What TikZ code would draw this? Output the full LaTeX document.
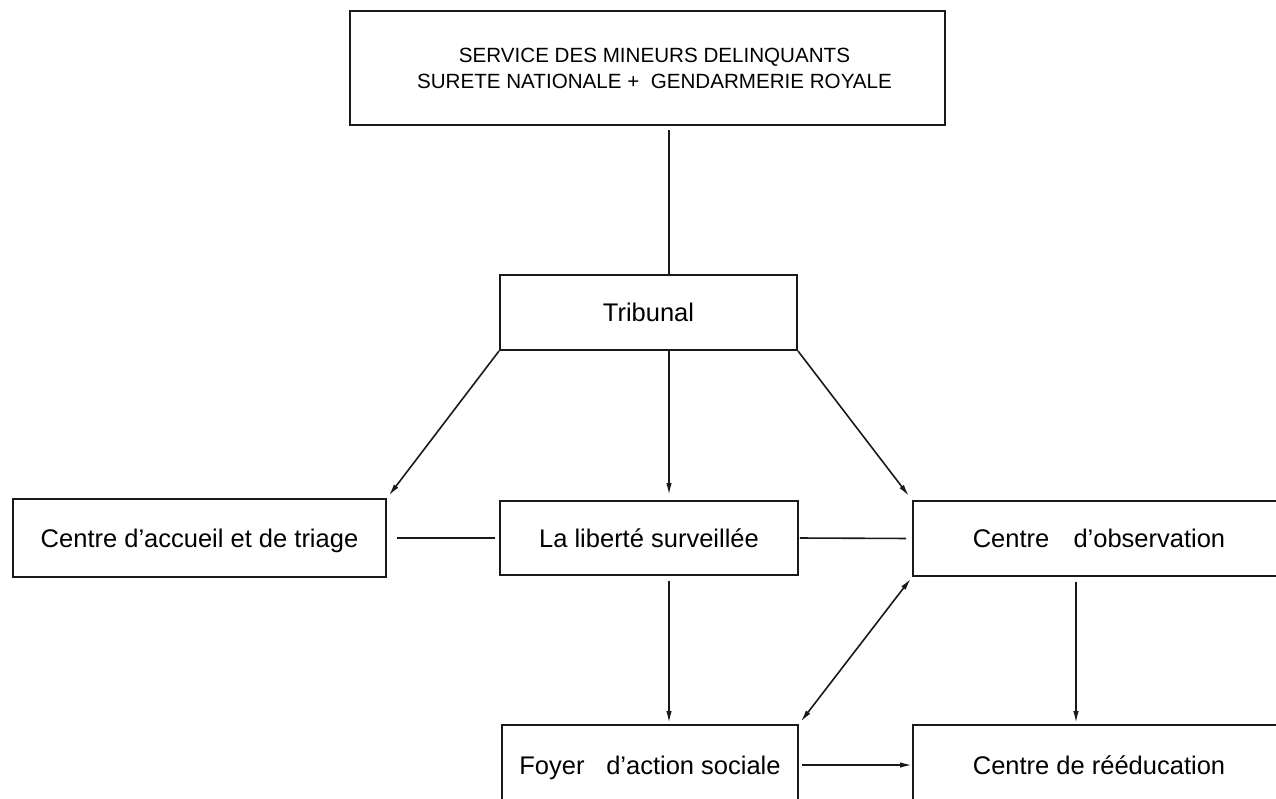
\documentclass[tikz,border=0pt]{standalone}
\usepackage{fontspec}
\setmainfont{Liberation Sans}
\usetikzlibrary{arrows.meta,calc}
\begin{document}
\begin{tikzpicture}[x=1pt,y=-1pt,
  box/.style={draw=black!90,line width=1.9pt,inner sep=0pt,align=center},
  lab/.style={font=\fontsize{25.5}{30}\selectfont,text height=18.3pt,text depth=0pt},
  conn/.style={draw=black!90,line width=1.6pt},
  tipx/.tip={Latex[length=12pt,width=5.5pt]},
  arr/.style={conn,-tipx},
  darr/.style={conn,tipx-tipx}]
\useasboundingbox (0,0) rectangle (1276,798);
\clip (0,0) rectangle (1276,798);
% nodes
\node[box,minimum width=595pt,minimum height=114pt,font=\fontsize{20.6}{26}\selectfont] (top) at (647.5,68)
  {\hspace*{14pt}SERVICE DES MINEURS DELINQUANTS\\\hspace*{14pt}SURETE NATIONALE +\ \ GENDARMERIE ROYALE};
\node[box,lab,minimum width=297pt,minimum height=75pt] (trib) at (648.5,312.5) {Tribunal};
\node[box,lab,minimum width=373pt,minimum height=78pt] (acc) at (199.5,538) {Centre d’accueil et de triage};
\node[box,lab,minimum width=298pt,minimum height=74pt] (lib) at (649,538) {La liberté surveillée};
\node[box,lab,minimum width=372pt,minimum height=75pt] (obs) at (1099,538.5) {Centre\hspace{0.95em}d’observation};
\node[box,lab,minimum width=296pt,minimum height=80pt] (foy) at (650,765) {Foyer\hspace{0.85em}d’action sociale};
\node[box,lab,minimum width=372pt,minimum height=80pt] (reh) at (1099,765) {Centre de rééducation};
% helper coordinates
\coordinate (vx) at (669,0);
\coordinate (vr) at (1076,0);
% connectors
\draw[conn] ([yshift=-4pt]top.south -| vx) -- (trib.north -| vx);
\draw[arr,shorten >=3pt] (trib.south west) -- (acc.north east);
\draw[arr,shorten >=5pt] (trib.south -| vx) -- (lib.north -| vx);
\draw[arr,shorten >=5pt] (trib.south east) -- (obs.north west);
\draw[conn,shorten <=10pt,shorten >=4pt] (acc.east) -- (lib.west);
\draw[conn,shorten <=1pt,shorten >=6pt] (lib.east) -- (obs.west);
\draw[arr,shorten <=5pt,shorten >=1pt] (lib.south -| vx) -- (foy.north -| vx);
\draw[darr,shorten <=2pt,shorten >=3pt] (obs.south west) -- (foy.north east);
\draw[arr,shorten <=5pt,shorten >=1pt] (obs.south -| vr) -- (reh.north -| vr);
\draw[arr,shorten <=3pt] (foy.east) -- (reh.west);
\end{tikzpicture}
\end{document}
